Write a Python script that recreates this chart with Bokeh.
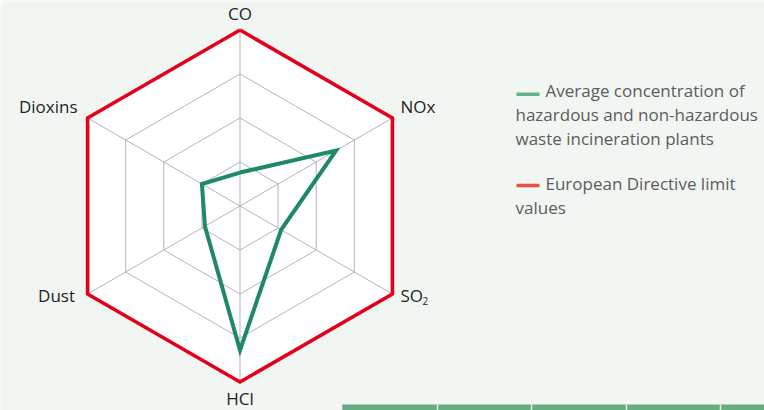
import numpy as np
from bokeh.plotting import figure
from bokeh.models import Range1d
from bokeh.core.properties import value
from bokeh.embed import file_html
from bokeh.resources import INLINE

# Pollutants on the radar, clockwise from the top
categories = ["CO", "NOx", "SO", "HCl", "Dust", "Dioxins"]
# Average emissions as a share of the limit value (limit = 1)
average = [0.19, 0.63, 0.27, 0.82, 0.23, 0.25]
limit = [1.0, 1.0, 1.0, 1.0, 1.0, 1.0]
grid_levels = [0.25, 0.5, 0.75]

legend_avg = ["Average concentration of", "hazardous and non-hazardous", "waste incineration plants"]
legend_lim = ["European Directive limit", "values"]

W, H = 764, 410
CX, CY, R = 239.5, 205.5, 176.0
BG = "#f2f6f2"
FONT = value("Open Sans")
DY = -7  # lift text so its baseline sits on the given y

angles = np.deg2rad(np.arange(len(categories)) * 60.0)


def polar(vals):
    v = np.asarray(vals, dtype=float)
    return list(CX + v * R * np.sin(angles)), list(CY - v * R * np.cos(angles))


def ys(*vals):
    return [v + DY for v in vals]


p = figure(width=W, height=H, output_backend="svg", toolbar_location=None,
           x_range=Range1d(0, W), y_range=Range1d(H, 0), min_border=0)
p.axis.visible = False
p.grid.visible = False
p.outline_line_color = None
p.background_fill_color = BG
p.border_fill_color = BG

# white plate inside the limit hexagon
lx, ly = polar(limit)
p.patch(lx, ly, fill_color="white", line_color=None)

# grid rings and spokes
for lv in grid_levels:
    gx, gy = polar([lv] * len(categories))
    p.line(gx + gx[:1], gy + gy[:1], line_color="#b5b5b5", line_width=1)
for x1, y1 in zip(lx, ly):
    p.line([CX, x1], [CY, y1], line_color="#b5b5b5", line_width=1)

# limit values
p.line(lx + lx[:1], ly + ly[:1], line_color="#e2001a", line_width=3.6, line_join="miter")

# averages
ax, ay = polar(average)
p.line(ax + ax[:1], ay + ay[:1], line_color="#1f8a62", line_width=4, line_join="miter")

# axis labels
lab_col = "#232323"
fs = "17px"
p.text(x=[CX], y=ys(20), text=["CO"], text_align="center", text_baseline="alphabetic",
       text_font=FONT, text_font_size=fs, text_color=lab_col)
p.text(x=[CX], y=ys(404.5), text=["HCl"], text_align="center", text_baseline="alphabetic",
       text_font=FONT, text_font_size=fs, text_color=lab_col)
p.text(x=[400, 400], y=ys(113, 301.5), text=["NOx", "SO"], text_align="left",
       text_baseline="alphabetic", text_font=FONT, text_font_size=fs, text_color=lab_col)
p.text(x=[422], y=ys(307.5), text=["2"], text_align="left", text_baseline="alphabetic",
       text_font=FONT, text_font_size="10px", text_color=lab_col)
p.text(x=[77, 74.5], y=ys(113, 301.5), text=["Dioxins", "Dust"], text_align="right",
       text_baseline="alphabetic", text_font=FONT, text_font_size=fs, text_color=lab_col)

# legend
leg_col = "#5c5c5c"
lfs = "17px"
p.line([516, 539], [93.7, 93.7], line_color="#66b086", line_width=3.5)
p.line([516, 539], [185, 185], line_color="#e8553e", line_width=3.5)
p.text(x=[545, 515, 515], y=ys(96.7, 121, 145.3), text=legend_avg, text_align="left",
       text_baseline="alphabetic", text_font=FONT, text_font_size=lfs, text_color=leg_col)
p.text(x=[545, 515], y=ys(190, 214.3), text=legend_lim, text_align="left",
       text_baseline="alphabetic", text_font=FONT, text_font_size=lfs, text_color=leg_col)

# green band along the bottom edge
p.quad(left=[342], right=[W], top=[404], bottom=[H], fill_color="#64ae82", line_color=None)
for sx in [437, 531, 626, 720]:
    p.line([sx, sx], [404, H], line_color="#e6f1e9", line_width=1.5)
p.line([342, 342], [404, H], line_color="#a9b5ab", line_width=1)

open("out.html", "w").write(file_html(p, INLINE))
